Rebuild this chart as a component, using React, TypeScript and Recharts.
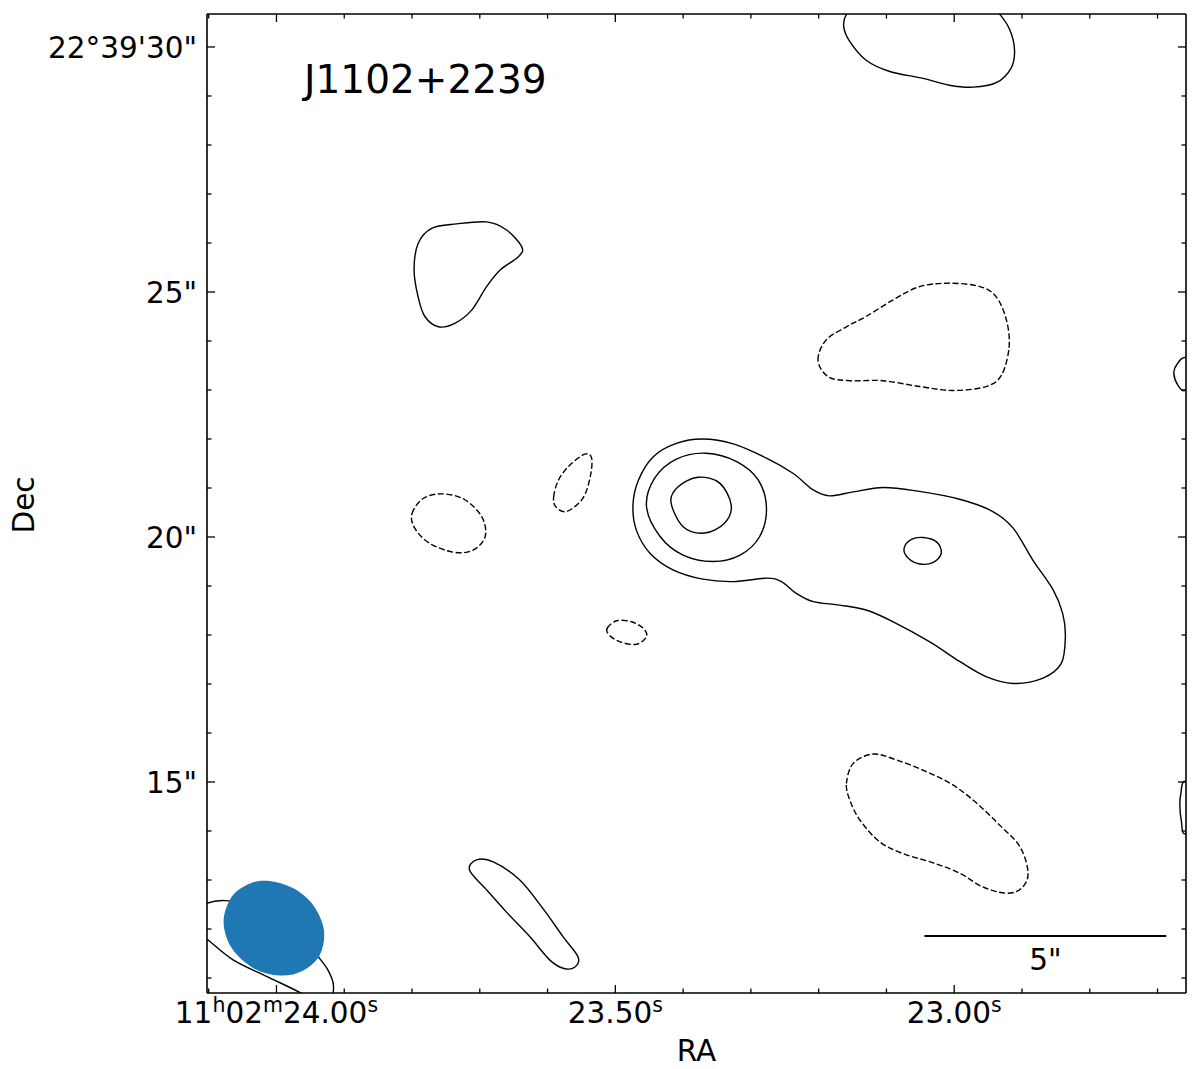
import React from 'react';
import { ScatterChart, Scatter, XAxis, YAxis, ReferenceLine } from 'recharts';

const FONT = '"DejaVu Sans", sans-serif';
const LABEL_SIZE = 29.5;

// axes (RA in seconds of 11h02m, Dec in arcsec of 22°39')
const raDomain = [22.658, 24.1025];
const decDomain = [10.694, 30.673];
const raTicks = [24.1, 24.0, 23.9, 23.8, 23.7, 23.6, 23.5, 23.4, 23.3, 23.2, 23.1, 23.0, 22.9, 22.8, 22.7];
const decTicks = [11, 12, 13, 14, 15, 16, 17, 18, 19, 20, 21, 22, 23, 24, 25, 26, 27, 28, 29, 30];

// contours, [ra, dec]
const outerLevel = [
  [23.474, 20.65], [23.466, 21.16], [23.444, 21.64], [23.41, 21.91], [23.371, 22.0], [23.326, 21.9],
  [23.277, 21.61], [23.238, 21.3], [23.208, 20.96], [23.184, 20.84], [23.149, 20.92], [23.105, 21.01],
  [23.056, 20.94], [22.992, 20.77], [22.943, 20.52], [22.913, 20.18], [22.884, 19.53], [22.854, 18.92],
  [22.84, 18.44], [22.836, 17.97], [22.842, 17.42], [22.869, 17.12], [22.913, 17.01], [22.953, 17.15],
  [22.992, 17.46], [23.036, 17.86], [23.09, 18.27], [23.13, 18.51], [23.169, 18.61], [23.208, 18.68],
  [23.233, 18.85], [23.255, 19.09], [23.277, 19.16], [23.326, 19.09], [23.371, 19.14], [23.415, 19.33],
  [23.449, 19.67], [23.469, 20.14],
];
const middleLevel = [
  [23.454, 20.62], [23.442, 21.2], [23.41, 21.59], [23.366, 21.71], [23.321, 21.54], [23.289, 21.16],
  [23.277, 20.59], [23.287, 20.01], [23.316, 19.63], [23.356, 19.5], [23.4, 19.63], [23.434, 20.01],
];
const innerLevel = [
  [23.418, 20.72], [23.407, 21.03], [23.378, 21.22], [23.346, 21.1], [23.329, 20.65], [23.339, 20.28],
  [23.368, 20.08], [23.4, 20.21],
];
const knotLevel = [
  [23.074, 19.77], [23.063, 19.95], [23.046, 19.99], [23.026, 19.9], [23.019, 19.67], [23.031, 19.48],
  [23.051, 19.45], [23.068, 19.57],
];
const blobNW = [
  [23.797, 25.45], [23.791, 25.99], [23.771, 26.3], [23.734, 26.39], [23.69, 26.43], [23.661, 26.27],
  [23.638, 25.92], [23.643, 25.72], [23.67, 25.45], [23.69, 25.11], [23.712, 24.63], [23.737, 24.36],
  [23.761, 24.29], [23.781, 24.5], [23.791, 24.9],
];
const blobTop = [
  [23.159, 30.67], [23.163, 30.41], [23.154, 30.11], [23.13, 29.73], [23.095, 29.5], [23.046, 29.36],
  [23.007, 29.22], [22.972, 29.18], [22.938, 29.27], [22.916, 29.57], [22.911, 29.94], [22.918, 30.35],
  [22.933, 30.67], [22.955, 30.96], [23.051, 31.2], [23.139, 30.96],
];
const blobSouth = [
  [23.715, 13.2], [23.705, 13.41], [23.68, 13.37], [23.641, 13.0], [23.607, 12.42], [23.577, 11.84],
  [23.555, 11.43], [23.56, 11.22], [23.577, 11.2], [23.597, 11.37], [23.626, 11.84], [23.661, 12.35],
  [23.69, 12.8],
];
const blobCorner = [
  [24.128, 12.29], [24.104, 12.52], [24.076, 12.58], [24.024, 12.47], [23.973, 12.08], [23.938, 11.43],
  [23.924, 11.16], [23.916, 10.86], [23.921, 10.55], [23.943, 10.49], [23.965, 10.7], [24.014, 11.03],
  [24.064, 11.37], [24.104, 11.81], [24.131, 12.08],
];
const edgeEast1 = [
  [22.659, 23.66], [22.672, 23.51], [22.676, 23.34], [22.67, 23.1], [22.659, 22.99], [22.638, 23.33],
];
const edgeEast2 = [
  [22.659, 15.01], [22.666, 14.73], [22.667, 14.5], [22.665, 14.22], [22.659, 13.95], [22.631, 14.5],
];
const negWest = [
  [23.8, 20.48], [23.783, 20.79], [23.754, 20.88], [23.722, 20.76], [23.697, 20.41], [23.692, 20.01],
  [23.71, 19.73], [23.739, 19.69], [23.774, 19.87], [23.796, 20.18],
];
const negDrop = [
  [23.591, 20.82], [23.584, 21.16], [23.567, 21.47], [23.545, 21.69], [23.535, 21.61], [23.537, 21.23],
  [23.548, 20.79], [23.572, 20.52], [23.588, 20.62],
];
const negSmall = [
  [23.512, 18.14], [23.498, 18.29], [23.476, 18.27], [23.459, 18.14], [23.454, 17.97], [23.469, 17.81],
  [23.493, 17.86], [23.509, 18.0],
];
const negNE = [
  [23.201, 23.61], [23.189, 24.02], [23.159, 24.29], [23.13, 24.5], [23.09, 24.84], [23.051, 25.11],
  [23.007, 25.18], [22.962, 25.11], [22.938, 24.9], [22.923, 24.43], [22.919, 23.88], [22.93, 23.31],
  [22.953, 23.07], [23.002, 22.99], [23.051, 23.07], [23.105, 23.19], [23.154, 23.19], [23.186, 23.27],
];
const negSE = [
  [23.159, 14.97], [23.149, 15.38], [23.12, 15.57], [23.085, 15.45], [23.041, 15.21], [23.002, 14.94],
  [22.967, 14.57], [22.933, 14.12], [22.903, 13.68], [22.891, 13.14], [22.901, 12.83], [22.923, 12.73],
  [22.958, 12.86], [22.992, 13.14], [23.031, 13.35], [23.076, 13.54], [23.11, 13.78], [23.139, 14.22],
  [23.154, 14.63],
];
const beam = [
  [24.078, 12.15], [24.066, 12.66], [24.039, 12.93], [24.01, 12.98], [23.975, 12.83], [23.946, 12.49],
  [23.93, 11.98], [23.936, 11.47], [23.961, 11.15], [23.995, 11.05], [24.034, 11.2], [24.066, 11.61],
];
const scaleBarRa = [23.044, 22.687];
const scaleBarDec = 11.857;

const positive = [outerLevel, middleLevel, innerLevel, knotLevel, blobNW, blobTop, blobSouth, blobCorner];
const negative = [negWest, negDrop, negSmall, negNE, negSE];
const edges = [edgeEast1, edgeEast2];

const toPts = (arr: number[][]) => arr.map(([ra, dec]) => ({ ra, dec }));

// closed catmull-rom, so the contour passes through the traced points
function closedSmooth(context: any) {
  let pts: number[][] = [];
  return {
    areaStart() {},
    areaEnd() {},
    lineStart() {
      pts = [];
    },
    point(x: number, y: number) {
      pts.push([x, y]);
    },
    lineEnd() {
      const n = pts.length;
      if (!n) return;
      context.moveTo(pts[0][0], pts[0][1]);
      for (let i = 0; i < n; i++) {
        const p0 = pts[(i - 1 + n) % n];
        const p1 = pts[i];
        const p2 = pts[(i + 1) % n];
        const p3 = pts[(i + 2) % n];
        context.bezierCurveTo(
          p1[0] + (p2[0] - p0[0]) / 6,
          p1[1] + (p2[1] - p0[1]) / 6,
          p2[0] - (p3[0] - p1[0]) / 6,
          p2[1] - (p3[1] - p1[1]) / 6,
          p2[0],
          p2[1],
        );
      }
      context.closePath();
    },
  };
}

const noDot = () => <g />;

const isMajorRa = (v: number) => Math.abs(v * 2 - Math.round(v * 2)) < 1e-6;
const isMajorDec = (v: number) => v % 5 === 0;
const MAJOR = 8;
const MINOR = 4.5;

function raLabel(v: number) {
  if (Math.abs(v - 24) < 1e-6) {
    return (
      <>
        11<tspan dy={-10.5} fontSize={20.5}>h</tspan>
        <tspan dy={10.5}>02</tspan>
        <tspan dy={-10.5} fontSize={20.5}>m</tspan>
        <tspan dy={10.5}>24.00</tspan>
        <tspan dy={-10.5} fontSize={20.5}>s</tspan>
      </>
    );
  }
  return (
    <>
      {v.toFixed(2)}
      <tspan dy={-10.5} fontSize={20.5}>s</tspan>
    </>
  );
}

function BottomTick(props: any) {
  const { x, y, payload } = props;
  const major = isMajorRa(payload.value);
  return (
    <g>
      <line x1={x} x2={x} y1={y} y2={y - (major ? MAJOR : MINOR)} stroke="#000" strokeWidth={1.3} />
      {major && (
        <text x={x} y={y + 29.5} textAnchor="middle" fontSize={LABEL_SIZE} fontFamily={FONT} fill="#000">
          {raLabel(payload.value)}
        </text>
      )}
    </g>
  );
}

function TopTick(props: any) {
  const { x, y, payload } = props;
  const major = isMajorRa(payload.value);
  return <line x1={x} x2={x} y1={y} y2={y + (major ? MAJOR : MINOR)} stroke="#000" strokeWidth={1.3} />;
}

function LeftTick(props: any) {
  const { x, y, payload } = props;
  const v = payload.value;
  const major = isMajorDec(v);
  return (
    <g>
      <line x1={x} x2={x + (major ? MAJOR : MINOR)} y1={y} y2={y} stroke="#000" strokeWidth={1.3} />
      {major && (
        <text x={x - 10} y={y + 10.7} textAnchor="end" fontSize={LABEL_SIZE} fontFamily={FONT} fill="#000">
          {v === 30 ? `22°39'30"` : `${v}"`}
        </text>
      )}
    </g>
  );
}

function RightTick(props: any) {
  const { x, y, payload } = props;
  const major = isMajorDec(payload.value);
  return <line x1={x} x2={x - (major ? MAJOR : MINOR)} y1={y} y2={y} stroke="#000" strokeWidth={1.3} />;
}

const renderDec = () => (
  <text transform="translate(34,505) rotate(-90)" textAnchor="middle" fontSize={LABEL_SIZE} fontFamily={FONT} fill="#000">
    Dec
  </text>
);

const axisLine = { stroke: '#000', strokeWidth: 1.6 };

export default function App() {
  return (
    <div style={{ position: 'absolute', left: 0, top: 0, width: 1200, height: 1069, background: '#fff' }}>
      <ScatterChart width={1200} height={1069} margin={{ top: 0, right: 0, bottom: 0, left: 0 }}>
        <XAxis
          xAxisId="ra"
          dataKey="ra"
          type="number"
          domain={raDomain}
          reversed
          allowDataOverflow
          ticks={raTicks}
          interval={0}
          height={76}
          tickSize={0}
          tickMargin={0}
          tickLine={false}
          axisLine={axisLine}
          tick={BottomTick}
          label={{ value: 'RA', position: 'insideBottom', offset: 8, fontSize: LABEL_SIZE, fill: '#000', fontFamily: FONT }}
        />
        <XAxis
          xAxisId="top"
          dataKey="ra"
          orientation="top"
          type="number"
          domain={raDomain}
          reversed
          allowDataOverflow
          ticks={raTicks}
          interval={0}
          height={14}
          tickSize={0}
          tickMargin={0}
          tickLine={false}
          axisLine={axisLine}
          tick={TopTick}
        />
        <YAxis
          yAxisId="dec"
          dataKey="dec"
          type="number"
          domain={decDomain}
          allowDataOverflow
          ticks={decTicks}
          interval={0}
          width={207}
          tickSize={0}
          tickMargin={0}
          tickLine={false}
          axisLine={axisLine}
          tick={LeftTick}
          label={renderDec}
        />
        <YAxis
          yAxisId="right"
          dataKey="dec"
          orientation="right"
          type="number"
          domain={decDomain}
          allowDataOverflow
          ticks={decTicks}
          interval={0}
          width={14}
          tickSize={0}
          tickMargin={0}
          tickLine={false}
          axisLine={axisLine}
          tick={RightTick}
        />
        {positive.map((c, i) => (
          <Scatter
            key={`p${i}`}
            xAxisId="ra"
            yAxisId="dec"
            data={toPts(c)}
            line={{ stroke: '#000', strokeWidth: 1.4, fill: 'none' }}
            lineJointType={closedSmooth as any}
            shape={noDot}
            isAnimationActive={false}
          />
        ))}
        {negative.map((c, i) => (
          <Scatter
            key={`n${i}`}
            xAxisId="ra"
            yAxisId="dec"
            data={toPts(c)}
            line={{ stroke: '#000', strokeWidth: 1.4, strokeDasharray: '6 2.6', fill: 'none' }}
            lineJointType={closedSmooth as any}
            shape={noDot}
            isAnimationActive={false}
          />
        ))}
        {edges.map((c, i) => (
          <Scatter
            key={`e${i}`}
            xAxisId="top"
            yAxisId="right"
            data={toPts(c)}
            line={{ stroke: '#000', strokeWidth: 1.4, fill: 'none' }}
            lineJointType={closedSmooth as any}
            shape={noDot}
            isAnimationActive={false}
          />
        ))}
        <Scatter
          xAxisId="ra"
          yAxisId="dec"
          data={toPts(beam)}
          line={{ stroke: 'none', fill: '#1f77b4' }}
          lineJointType={closedSmooth as any}
          shape={noDot}
          isAnimationActive={false}
        />
        <ReferenceLine
          xAxisId="ra"
          yAxisId="dec"
          segment={[
            { x: scaleBarRa[0], y: scaleBarDec },
            { x: scaleBarRa[1], y: scaleBarDec },
          ]}
          stroke="#000"
          strokeWidth={2.2}
          label={{ value: '5"', position: 'bottom', offset: 13, fontSize: LABEL_SIZE, fill: '#000', fontFamily: FONT }}
        />
      </ScatterChart>
      <div
        style={{
          position: 'absolute',
          left: 304,
          top: 60,
          fontSize: 39,
          lineHeight: '39px',
          fontFamily: FONT,
          color: '#000',
          whiteSpace: 'nowrap',
        }}
      >
        J1102+2239
      </div>
    </div>
  );
}
